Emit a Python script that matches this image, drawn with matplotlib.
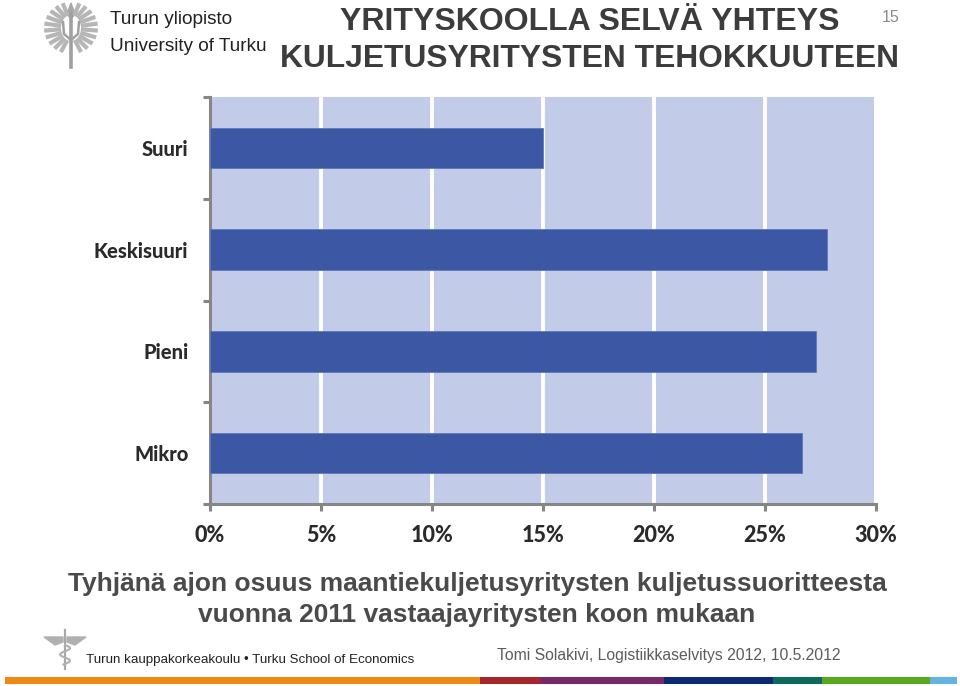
import matplotlib
matplotlib.use("Agg")
import numpy as np
import matplotlib.pyplot as plt
from matplotlib.patches import Polygon, Rectangle

categories = ["Suuri", "Keskisuuri", "Pieni", "Mikro"]
values = [15.0, 27.8, 27.3, 26.65]
xticks = [0, 5, 10, 15, 20, 25, 30]
xticklabels = ["0%", "5%", "10%", "15%", "20%", "25%", "30%"]
title_lines = ["YRITYSKOOLLA SELVÄ YHTEYS", "KULJETUSYRITYSTEN TEHOKKUUTEEN"]
sub_lines = ["Tyhjänä ajon osuus maantiekuljetusyritysten kuljetussuoritteesta",
             "vuonna 2011 vastaajayritysten koon mukaan"]
band_colors = ["#ec8a12", "#a8262e", "#782a68", "#0d2a78", "#0e6a5c", "#5aa81e", "#62b4e4"]
band_edges = [5, 480, 540, 664, 773, 822, 930, 957]

W, H = 960, 686
fig = plt.figure(figsize=(W/100, H/100), dpi=100, facecolor="white")

# overlay in pixel coordinates for slide furniture
ov = fig.add_axes([0, 0, 1, 1], zorder=0)
ov.set_xlim(0, W); ov.set_ylim(H, 0); ov.axis("off")

ax = fig.add_axes([210/W, 1-504/H, (876-210)/W, (504-97)/H], zorder=2)
ax.set_facecolor("#c2cce9")
y = np.arange(len(categories))
ax.barh(y, values, height=0.4, color="#3c57a3", edgecolor="#5f78b8", linewidth=0.6, zorder=3)
ax.set_xlim(0, 30)
ax.set_ylim(3.5, -0.5)
for xv in xticks[1:]:
    ax.axvline(xv, color="white", lw=2.8, zorder=2)

for s in ["top", "right"]:
    ax.spines[s].set_visible(False)
for s in ["left", "bottom"]:
    ax.spines[s].set_color("#868686")
    ax.spines[s].set_linewidth(2.2)
ax.set_xticks(xticks)
ax.set_xticklabels(xticklabels, fontfamily="Lato", fontweight="black", fontsize=15.5, color="#2a2a2a")
ax.set_yticks(np.arange(-0.5, 4, 1))
ax.set_yticklabels([])
ax.set_yticks(y, minor=True)
ax.set_yticklabels(categories, minor=True, fontfamily="Lato", fontweight="black", fontsize=14.5, color="#2a2a2a")
ax.tick_params(axis="y", which="major", length=5, width=2.2, color="#868686")
ax.tick_params(axis="y", which="minor", length=0, pad=15.5)
ax.tick_params(axis="x", length=5, width=2.2, color="#868686", pad=10)

# titles
fam = ["Liberation Sans", "DejaVu Sans"]
ov.text(590, 30, title_lines[0], ha="center", va="baseline", family=fam, weight="bold", fontsize=23, color="#3c3c3c")
ov.text(590, 67, title_lines[1], ha="center", va="baseline", family=fam, weight="bold", fontsize=22.85, color="#3c3c3c")
ov.text(891, 17, "15", ha="center", va="center", family=fam, fontsize=11.5, color="#8c8c8c")
ov.text(477, 591, sub_lines[0], ha="center", va="baseline", family=fam, weight="bold", fontsize=19, color="#4a4a4a")
ov.text(477, 622, sub_lines[1], ha="center", va="baseline", family=fam, weight="bold", fontsize=19, color="#4a4a4a")
ov.text(86, 663, "Turun kauppakorkeakoulu • Turku School of Economics", ha="left", va="baseline",
        family=fam, fontsize=9.65, color="#222222")
ov.text(497, 660, "Tomi Solakivi, Logistiikkaselvitys 2012, 10.5.2012", ha="left", va="baseline",
        family=fam, fontsize=11.35, color="#5c5c5c")

# logo text
ov.text(110, 24, "Turun yliopisto", ha="left", va="baseline", family=fam, fontsize=13.7, color="#222222")
ov.text(110, 51, "University of Turku", ha="left", va="baseline", family=fam, fontsize=13.7, color="#222222")

# University emblem: wings and torch
for sign in (-1, 1):
    for a in np.linspace(-72, 68, 10):
        t = np.radians(a)
        x0, y0 = 71 + sign*10*np.cos(t), 28 + 13*np.sin(t)
        x1, y1 = 71 + sign*27*np.cos(t), 28 + 26*np.sin(t)
        ov.plot([x0, x1], [y0, y1], color="#b6b6b6", lw=3.0, solid_capstyle="butt")
ov.plot([71, 71], [14, 67], color="#a0a0a0", lw=2.6)
ov.plot([63, 64, 71, 78, 79], [22, 34, 40, 34, 22], color="#a0a0a0", lw=1.8)
ov.add_patch(Polygon([[71, 3], [67, 14], [71, 19], [75, 14]], color="#a8a8a8"))

# School emblem: caduceus
ov.plot([65, 65], [630, 669], color="#a8a8a8", lw=1.6)
ov.add_patch(Polygon([[44, 637], [63, 637], [63, 642], [55, 645]], color="#b0b0b0"))
ov.add_patch(Polygon([[86, 637], [67, 637], [67, 642], [75, 645]], color="#b0b0b0"))
yy = np.arange(645, 665, 0.5)
ov.plot(65 + 5*np.sin((yy-645)/2.0), yy, color="#b0b0b0", lw=1.5)

# footer colour band
for c, a, b in zip(band_colors, band_edges[:-1], band_edges[1:]):
    ov.add_patch(Rectangle((a, 677), b-a, 7, color=c, lw=0))

fig.savefig("out.png", dpi=100)
